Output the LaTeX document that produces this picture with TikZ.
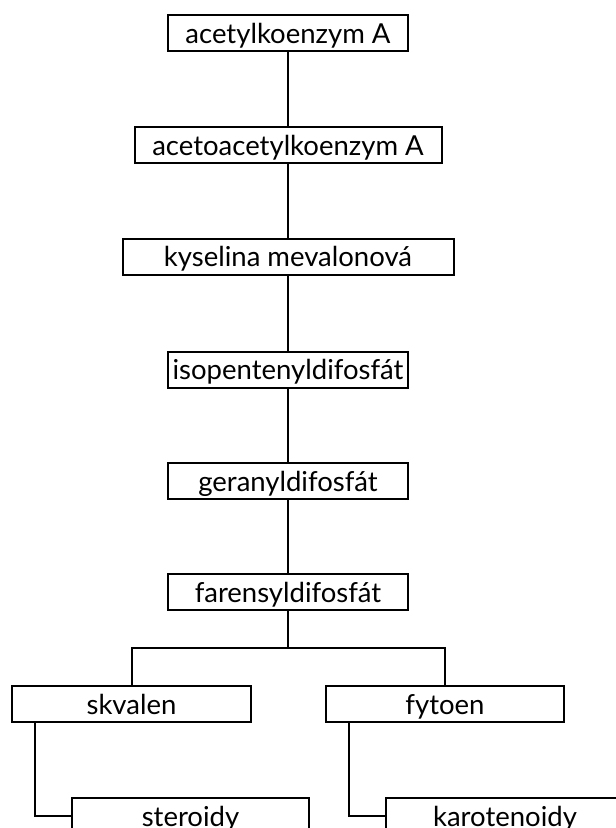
\documentclass[tikz,border=0pt]{standalone}
\usepackage{fontspec}
\setmainfont{Lato}

\begin{document}
\begin{tikzpicture}[x=1pt, y=-1pt, line width=2pt,
    stepBox/.style={draw, inner sep=0pt, minimum height=36pt,
      text height=22pt, text depth=2pt,
      font=\fontsize{27.5}{30}\selectfont}]
  \useasboundingbox (0,0) rectangle (616,828);
  \clip (0,0) rectangle (616,828);
  % Nodes
  \node[stepBox, minimum width=240pt] (acetylCoA) at (288,33) {acetylkoenzym A};
  \node[stepBox, minimum width=307pt] (acetoacetylCoA) at (288,145) {acetoacetylkoenzym A};
  \node[stepBox, minimum width=331pt] (mevalon) at (288,256.5) {kyselina mevalonová};
  \node[stepBox, minimum width=240pt] (ipp) at (288,369.5) {isopentenyldifosfát};
  \node[stepBox, minimum width=240pt] (gpp) at (288,481) {geranyldifosfát};
  \node[stepBox, minimum width=240pt] (fpp) at (288,592) {farensyldifosfát};
  \node[stepBox, minimum width=239pt] (skvalen) at (131.5,704) {skvalen};
  \node[stepBox, minimum width=238pt] (fytoen) at (445,704) {fytoen};
  \node[stepBox, minimum width=237pt] (steroidy) at (190.5,816) {steroidy};
  \node[stepBox, minimum width=238pt] (karoten) at (505,816) {karotenoidy};
  \coordinate (split) at (288,648);

  % Edges
  \draw (acetylCoA) -- (acetoacetylCoA);
  \draw (acetoacetylCoA) -- (mevalon);
  \draw (mevalon) -- (ipp);
  \draw (ipp) -- (gpp);
  \draw (gpp) -- (fpp);
  \draw (fpp) -- (split);
  \draw (skvalen) |- (split) -| (fytoen);
  \draw ([xshift=24pt]skvalen.south west) |- (steroidy.west);
  \draw ([xshift=24pt]fytoen.south west) |- (karoten.west);

\end{tikzpicture}
\end{document}
